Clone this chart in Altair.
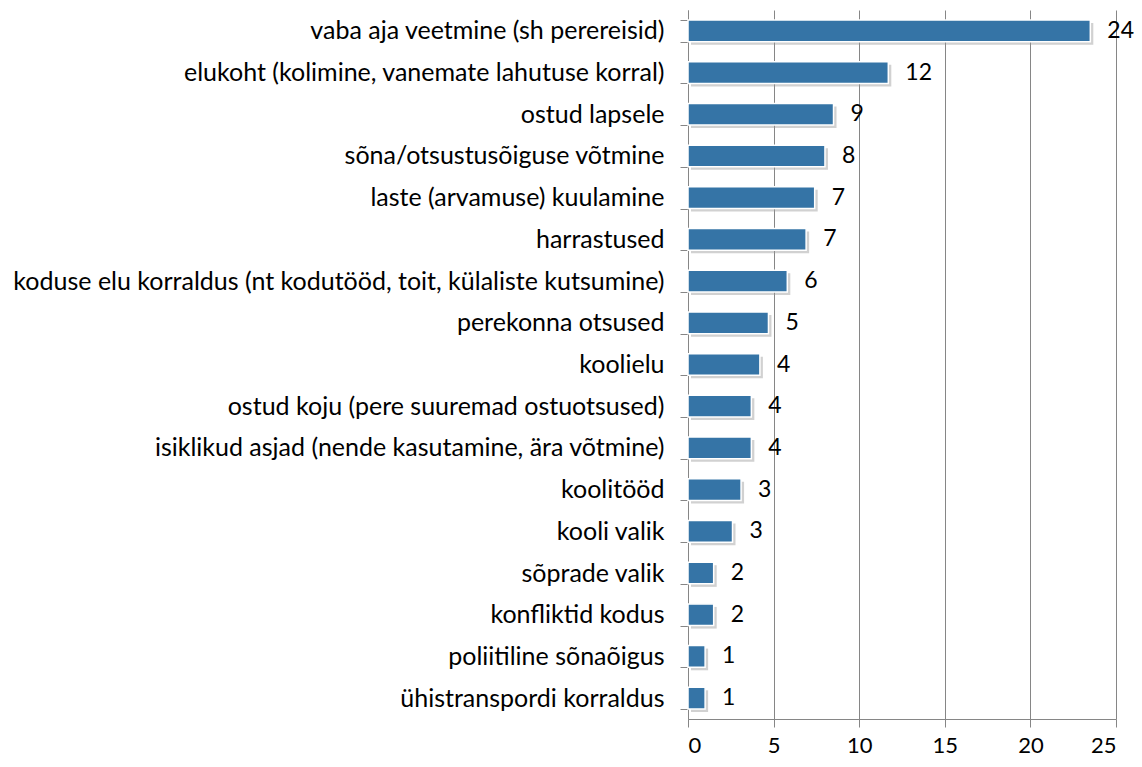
import altair as alt
import pandas as pd

categories = [
    "vaba aja veetmine (sh perereisid)",
    "elukoht (kolimine, vanemate lahutuse korral)",
    "ostud lapsele",
    "sõna/otsustusõiguse võtmine",
    "laste (arvamuse) kuulamine\u00a0",
    "harrastused\u00a0",
    "koduse elu korraldus (nt kodutööd, toit, külaliste kutsumine)",
    "perekonna otsused",
    "koolielu\u00a0",
    "ostud koju (pere suuremad ostuotsused)",
    "isiklikud asjad (nende kasutamine, ära võtmine)",
    "koolitööd",
    "kooli valik",
    "sõprade valik",
    "konfliktid kodus",
    "poliitiline sõnaõigus",
    "ühistranspordi korraldus",
]
values = [23.5, 11.7, 8.5, 8.0, 7.4, 6.9, 5.8, 4.7, 4.2, 3.7, 3.7, 3.1, 2.6, 1.5, 1.5, 1.0, 1.0]
value_labels = ["24", "12", "9", "8", "7", "7", "6", "5", "4", "4", "4", "3", "3", "2", "2", "1", "1"]
x_ticks = [0, 5, 10, 15, 20, 25]

df = pd.DataFrame({"cat": categories, "value": values, "label": value_labels})

FONT = "Lato"
GRAY = "#868686"

y_enc = alt.Y(
    "cat:N",
    sort=categories,
    scale=alt.Scale(paddingInner=0.48, paddingOuter=0.24),
    axis=alt.Axis(
        title=None,
        tickBand="extent",
        tickSize=8,
        tickColor=GRAY,
        domainColor=GRAY,
        labelFont=FONT,
        labelFontSize=25,
        labelColor="#000000",
        labelPadding=16,
        labelLimit=700,
        grid=False,
    ),
)
x_enc = alt.X(
    "value:Q",
    scale=alt.Scale(domain=[0, 25], nice=False),
    axis=alt.Axis(
        title=None,
        values=x_ticks,
        tickSize=8,
        tickColor=GRAY,
        domainColor=GRAY,
        gridColor=GRAY,
        grid=True,
        labelFont=FONT,
        labelFontSize=22,
        labelColor="#000000",
        labelPadding=8,
    ),
)

base = alt.Chart(df)

shadow = base.mark_bar(color="#9a9a9a", opacity=0.45, xOffset=3, yOffset=3).encode(
    x=x_enc, y=y_enc
)
bars = base.mark_bar(color="#3574A6", stroke="white", strokeWidth=1.5).encode(
    x=x_enc, y=y_enc
)
text = base.mark_text(
    align="left", baseline="middle", dx=17, font=FONT, fontSize=23, color="#000000"
).encode(x=x_enc, y=y_enc, text="label:N")

chart = (
    alt.layer(shadow, bars, text)
    .properties(
        width=428,
        height=709,
        autosize=alt.AutoSizeParams(type="none"),
        padding={"left": 680, "top": 2, "right": 18, "bottom": 38},
    )
    .configure_view(stroke=None)
)

chart.save("out.html", embed_options={"renderer": "svg", "actions": False})
